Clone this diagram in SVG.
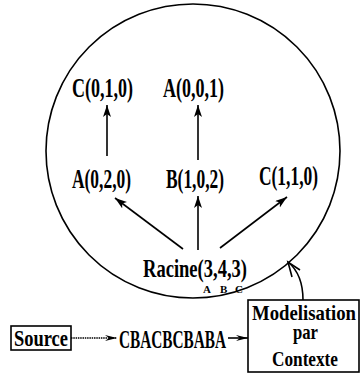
<svg xmlns="http://www.w3.org/2000/svg" width="361" height="376" viewBox="0 0 361 376">
<style>
.t{font-family:"Liberation Serif","DejaVu Serif",serif;font-weight:bold;fill:#000;}
.c{stroke:#000;fill:none;stroke-width:1.6;}
.b{stroke:#000;fill:#fff;stroke-width:1.6;}
</style>
<defs>
<marker id="ah" markerUnits="userSpaceOnUse" markerWidth="14" markerHeight="10" refX="12" refY="4" orient="auto">
<path d="M0,0 L12,4 L0,8 L3,4 Z" fill="#000"/>
</marker>
<marker id="ah2" markerUnits="userSpaceOnUse" markerWidth="14" markerHeight="10" refX="12" refY="4" orient="auto">
<path d="M0,1 L12,4 L0,7 L4,4 Z" fill="#000"/>
</marker>
</defs>
<rect width="361" height="376" fill="#fff"/>
<g id="context">
<circle cx="193" cy="151" r="147" class="c" stroke-width="1.5"/>
</g>
<g id="connectors">
<line x1="107" y1="156" x2="107" y2="105" class="c" marker-end="url(#ah)"/>
<line x1="198" y1="160" x2="198" y2="105" class="c" marker-end="url(#ah)"/>
<line x1="183" y1="249" x2="115" y2="198" class="c" marker-end="url(#ah)"/>
<line x1="198" y1="250" x2="198" y2="196" class="c" marker-end="url(#ah)"/>
<line x1="220" y1="248" x2="287" y2="197" class="c" marker-end="url(#ah)"/>
<line x1="71" y1="338" x2="117" y2="338" class="c" stroke-width="1" stroke-dasharray="1.5,0.8" marker-end="url(#ah2)"/>
<line x1="228" y1="338" x2="248" y2="338" class="c" stroke-width="1.2" marker-end="url(#ah2)"/>
<path d="M303,300 C303,285 300,272 288,262" class="c"/>
<path d="M300,270 L288,262 L292,277" class="c"/>
</g>
<g id="n-c010"><text class="t" x="72" y="97" font-size="27" textLength="61" lengthAdjust="spacingAndGlyphs">C(0,1,0)</text></g>
<g id="n-a001"><text class="t" x="163" y="97" font-size="27" textLength="61" lengthAdjust="spacingAndGlyphs">A(0,0,1)</text></g>
<g id="n-a020"><text class="t" x="72" y="188" font-size="27" textLength="59" lengthAdjust="spacingAndGlyphs">A(0,2,0)</text></g>
<g id="n-b102"><text class="t" x="166" y="188" font-size="27" textLength="58" lengthAdjust="spacingAndGlyphs">B(1,0,2)</text></g>
<g id="n-c110"><text class="t" x="259" y="185" font-size="27" textLength="59" lengthAdjust="spacingAndGlyphs">C(1,1,0)</text></g>
<g id="n-racine">
<text class="t" x="143" y="277" font-size="26" textLength="104" lengthAdjust="spacingAndGlyphs">Racine(3,4,3)</text>
<text class="t" x="203" y="293" font-size="11">A</text>
<text class="t" x="220" y="293" font-size="11">B</text>
<text class="t" x="235" y="293" font-size="11">C</text>
</g>
<g id="n-source">
<rect x="11" y="326" width="60" height="24" class="b"/>
<text class="t" x="14" y="346" font-size="23" textLength="54" lengthAdjust="spacingAndGlyphs">Source</text>
</g>
<g id="n-seq"><text class="t" x="119" y="348" font-size="25" textLength="107" lengthAdjust="spacingAndGlyphs">CBACBCBABA</text></g>
<g id="n-model">
<rect x="248" y="300" width="111" height="72" class="b"/>
<text class="t" x="252" y="320" font-size="21" textLength="104" lengthAdjust="spacingAndGlyphs">Modelisation</text>
<text class="t" x="293" y="339" font-size="21" textLength="25" lengthAdjust="spacingAndGlyphs">par</text>
<text class="t" x="272" y="366" font-size="22" textLength="66" lengthAdjust="spacingAndGlyphs">Contexte</text>
</g>
</svg>
